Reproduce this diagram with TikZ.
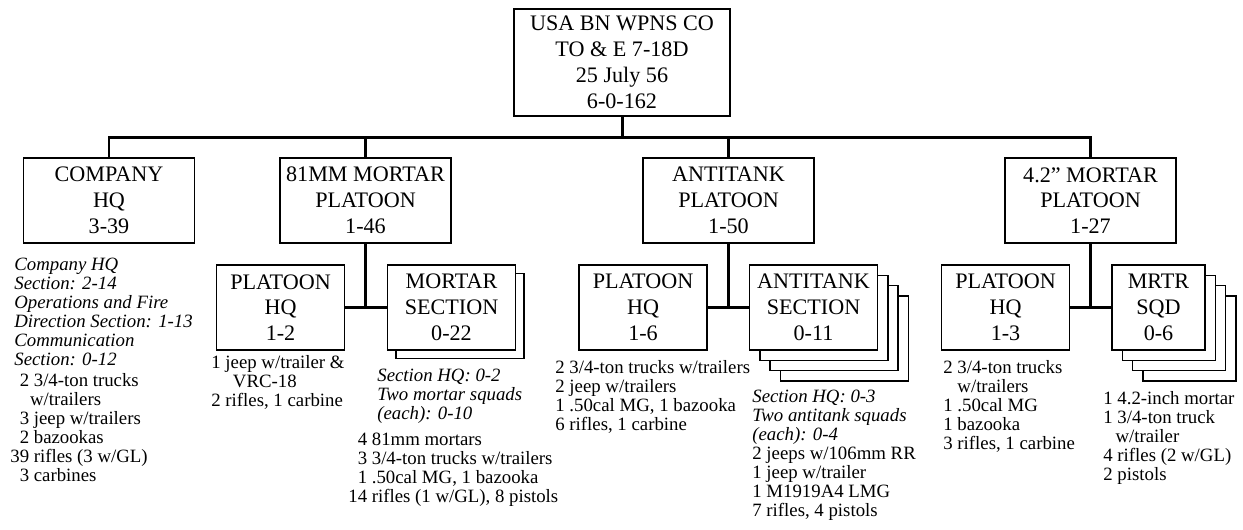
\documentclass[tikz,border=0pt]{standalone}
\usepackage{fontspec}
\setmainfont{Liberation Serif}
\usetikzlibrary{shadows}

\tikzset{
  unit/.style={draw,line width=1.1pt,fill=white,align=center,inner sep=0pt,
    font=\fontsize{12.6}{14.7}\selectfont},
  toe/.style={unit,minimum width=4.32cm,minimum height=2.14cm},
  plt/.style={unit,minimum width=3.42cm,minimum height=1.7cm},
  sec/.style={unit,minimum width=2.56cm,minimum height=1.7cm},
  stack/.style={copy shadow={shadow xshift=#1,shadow yshift=-#1,draw,fill=white}},
  link/.style={line width=1.7pt},
  notes/.style={anchor=north west,align=left,inner sep=0pt,
    font=\fontsize{10.7}{10.8}\selectfont},
  notesit/.style={notes,font=\fontsize{10.7}{10.8}\selectfont\itshape},
}

\begin{document}
\begin{tikzpicture}[x=0.02cm,y=-0.02cm]
\useasboundingbox (0,0) rectangle (1243,529);
\node[toe] (top) at (622,62.5) {USA BN WPNS CO\\TO \& E 7-18D\\25 July 56\\6-0-162};
\node[plt] (co) at (109,200.5) {COMPANY\\HQ\\3-39};
\node[plt] (mor) at (365.5,200.5) {81MM MORTAR\\PLATOON\\1-46};
\node[plt] (at) at (728.5,200.5) {ANTITANK\\PLATOON\\1-50};
\node[plt] (hvy) at (1090.5,200.5) {4.2” MORTAR\\PLATOON\\1-27};
\node[sec] (morhq) at (280.5,307.5) {PLATOON\\HQ\\1-2};
\node[sec,stack=0.17cm] (morsec) at (451.5,307.5) {MORTAR\\SECTION\\0-22};
\node[sec] (athq) at (643,307.5) {PLATOON\\HQ\\1-6};
\node[sec,stack=0.62cm,stack=0.41cm,stack=0.21cm] (atsec) at (813.5,307.5) {ANTITANK\\SECTION\\0-11};
\node[sec] (hvyhq) at (1005.5,307.5) {PLATOON\\HQ\\1-3};
\node[sec,minimum width=1.86cm,stack=0.62cm,stack=0.41cm,stack=0.21cm] (mrtr) at (1158.5,307.5) {MRTR\\SQD\\0-6};

\coordinate (bus) at (622,137);
\draw[link] (top) -- (bus);
\draw[link] (co.north) |- (bus) -| (hvy.north);
\draw[link] (mor.north) -- (mor.north |- bus);
\draw[link] (at.north) -- (at.north |- bus);
\draw[link] (mor.south) -- (mor.south |- morhq.east);
\draw[link] (morhq.east) -- (morsec.west);
\draw[link] (at.south) -- (at.south |- athq.east);
\draw[link] (athq.east) -- (atsec.west);
\draw[link] (hvy.south) -- (hvy.south |- hvyhq.east);
\draw[link] (hvyhq.east) -- (mrtr.west);

\node[notesit] (conotes) at (14,258) {Company HQ\\Section: 2-14\\Operations and Fire\\Direction Section: 1-13\\Communication\\Section: 0-12};
\node[notes] (coeq) at (10,373) {\phantom{3}2 3/4-ton trucks\\\hspace*{1.05em}w/trailers\\\phantom{3}3 jeep w/trailers\\\phantom{3}2 bazookas\\39 rifles (3 w/GL)\\\phantom{3}3 carbines};
\node[notes] (morhqeq) at (211,355) {1 jeep w/trailer \&\\\hspace*{1.15em}VRC-18\\2 rifles, 1 carbine};
\node[notesit] (morsecnotes) at (377,369) {Section HQ: 0-2\\Two mortar squads\\(each): 0-10};
\node[notes] (morseceq) at (348,433) {\phantom{1}4 81mm mortars\\\phantom{1}3 3/4-ton trucks w/trailers\\\phantom{1}1 .50cal MG, 1 bazooka\\14 rifles (1 w/GL), 8 pistols};
\node[notes] (athqeq) at (555,360) {2 3/4-ton trucks w/trailers\\2 jeep w/trailers\\1 .50cal MG, 1 bazooka\\6 rifles, 1 carbine};
\node[notes] (atsecnotes) at (752,390) {\textit{Section HQ: 0-3}\\\textit{Two antitank squads}\\\textit{(each): 0-4}\\2 jeeps w/106mm RR\\1 jeep w/trailer\\1 M1919A4 LMG\\7 rifles, 4 pistols};
\node[notes] (hvyhqeq) at (943,360) {2 3/4-ton trucks\\\hspace*{0.75em}w/trailers\\1 .50cal MG\\1 bazooka\\3 rifles, 1 carbine};
\node[notes] (mrtreq) at (1103,391) {1 4.2-inch mortar\\1 3/4-ton truck\\\hspace*{0.65em}w/trailer\\4 rifles (2 w/GL)\\2 pistols};
\end{tikzpicture}
\end{document}
